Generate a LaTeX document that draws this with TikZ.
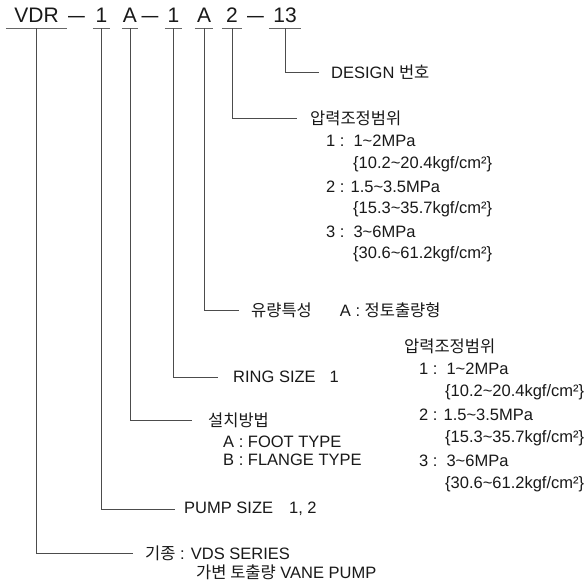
\documentclass[tikz,border=0pt]{standalone}
\usepackage{fontspec}
\setmainfont{Liberation Sans}
\newfontfamily\krfont{Noto Sans CJK KR}
\newcommand\hg[1]{{\krfont #1}}
\newcommand\tld{\textasciitilde}
\begin{document}
\begin{tikzpicture}[x=1pt,y=-1pt,
  every node/.style={font=\fontsize{16.5}{18}\selectfont, text=black!90},
  hdr/.style={font=\fontsize{21}{21}\selectfont, inner sep=0pt, minimum width=#1, text height=15pt, text depth=5pt, anchor=base},
  dsh/.style={font=\fontsize{21}{21}\selectfont, inner sep=0pt, anchor=base},
  ul/.style={draw=black!60, line width=1.1pt},
  conn/.style={draw=black!70, line width=0.8pt},
  lbl/.style={anchor=west, inner ysep=0pt, inner xsep=#1},
  sub/.style={anchor=west, inner sep=0pt}]
\fill[white] (0,0) rectangle (588,588);
\useasboundingbox (0,0) rectangle (588,588);

% header
\node[hdr=61pt] (vdr) at (36.5,23) {VDR};
\node[dsh] (d1) at (76.5,23) {\scalebox{0.8}[1]{—}};
\node[hdr=17pt] (p1) at (101.5,23) {1};
\node[hdr=16pt] (p2) at (130,23) {A};
\node[dsh] (d2) at (150,23) {\scalebox{0.8}[1]{—}};
\node[hdr=17pt] (p3) at (173.5,23) {1};
\node[hdr=18pt] (p4) at (204,23) {A};
\node[hdr=20pt] (p5) at (232,23) {2};
\node[dsh] (d3) at (255.5,23) {\scalebox{0.8}[1]{—}};
\node[hdr=32pt] (p6) at (285,23) {13};
\foreach \n in {vdr,p1,p2,p3,p4,p5,p6}
  \draw[ul] (\n.south west) -- (\n.south east);

% DESIGN
\node[lbl=12pt] (design) at (319,72) {DESIGN \hg{번호}};
\draw[conn] (p6.south) |- (design.west);

% pressure range (upper)
\node[lbl=13pt] (range) at (297,118) {\hg{압력조정범위}};
\draw[conn] (p5.south) |- (range.west);
\node[sub] (ra1) at (326,141) {1 :\hspace{9pt}1\tld 2MPa};
\node[sub] (ra2) at (353,164) {\{10.2\tld 20.4kgf/cm²\}};
\node[sub] (ra3) at (326,187) {2 : 1.5\tld 3.5MPa};
\node[sub] (ra4) at (353,209) {\{15.3\tld 35.7kgf/cm²\}};
\node[sub] (ra5) at (326,232) {3 :\hspace{9pt}3\tld 6MPa};
\node[sub] (ra6) at (353,254) {\{30.6\tld 61.2kgf/cm²\}};

% flow characteristic
\node[lbl=12pt] (flow) at (239,310) {\hg{유량특성}\hspace{28pt}A : \hg{정토출량형}};
\draw[conn] (p4.south) |- (flow.west);

% ring size
\node[lbl=15pt] (ring) at (218,377) {RING SIZE\hspace{14pt}1};
\draw[conn] (p3.south) |- (ring.west);

% mounting
\node[lbl=16pt] (mount) at (192,420) {\hg{설치방법}};
\draw[conn] (p2.south) |- (mount.west);
\node[sub] (mo1) at (223,442) {A : FOOT TYPE};
\node[sub] (mo2) at (223,460) {B : FLANGE TYPE};

% pump size
\node[lbl=9pt] (pump) at (175,509) {PUMP SIZE\hspace{16pt}1, 2};
\draw[conn] (p1.south) |- (pump.west);

% model
\node[lbl=12pt] (kind) at (133,553) {\hg{기종} : VDS SERIES};
\draw[conn] (vdr.south) |- (kind.west);
\node[sub] (ki1) at (196,572) {\hg{가변 토출량} VANE PUMP};

% pressure range (right)
\node[sub] (rangeb) at (404,346) {\hg{압력조정범위}};
\node[sub] (rb1) at (419,369) {1 :\hspace{9pt}1\tld 2MPa};
\node[sub] (rb2) at (445,392) {\{10.2\tld 20.4kgf/cm²\}};
\node[sub] (rb3) at (419,415) {2 : 1.5\tld 3.5MPa};
\node[sub] (rb4) at (445,438) {\{15.3\tld 35.7kgf/cm²\}};
\node[sub] (rb5) at (419,461) {3 :\hspace{9pt}3\tld 6MPa};
\node[sub] (rb6) at (445,484) {\{30.6\tld 61.2kgf/cm²\}};
\end{tikzpicture}
\end{document}
